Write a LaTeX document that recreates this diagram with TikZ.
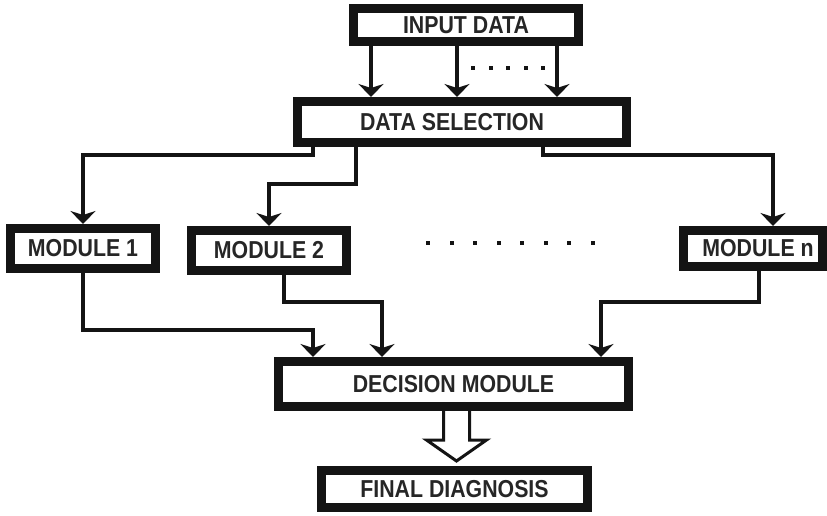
\documentclass[tikz,border=0pt]{standalone}
\usepackage{fontspec}
\newfontfamily\lab[FakeStretch=0.87]{Liberation Sans}
\usetikzlibrary{arrows.meta,calc}
\definecolor{ink}{HTML}{141414}
\definecolor{txt}{HTML}{262626}
\begin{document}
\begin{tikzpicture}[x=1pt,y=-1pt,
  box/.style={draw=ink, line width=9pt, inner sep=0pt, text=txt,
    font=\lab\bfseries\fontsize{24.5}{26}\selectfont},
  link/.style={draw=ink, line width=4pt,
    -{Stealth[length=13pt,width=25pt,inset=4pt]}},
  dot/.style={fill=ink, minimum width=4pt, minimum height=3.5pt, inner sep=0pt}]
  % canvas
  \fill[white] (0,0) rectangle (827,515);
  \useasboundingbox (0,0) rectangle (827,515);

  % boxes
  \node[box, minimum width=225pt, minimum height=33pt] (in)  at (466,25) {INPUT DATA};
  \node[box, minimum width=329pt, minimum height=41pt] (ds)  at (462,122) {\hspace*{-20pt}DATA SELECTION};
  \node[box, minimum width=145pt, minimum height=40pt] (m1)  at (83,248.5) {MODULE 1};
  \node[box, minimum width=155pt, minimum height=40pt] (m2)  at (269,250.5) {MODULE 2};
  \node[box, minimum width=139pt, minimum height=36pt] (mn)  at (753,248.5) {\hspace*{10pt}MODULE n};
  \node[box, minimum width=350pt, minimum height=45pt] (dec) at (453.5,384) {DECISION MODULE};
  \node[box, minimum width=266pt, minimum height=37pt] (fin) at (454.5,489) {FINAL DIAGNOSIS};

  % input data to data selection
  \draw[link] (in.south -| 371,0) -- (ds.north -| 371,0);
  \draw[link] (in.south -| 457,0) -- (ds.north -| 457,0);
  \draw[link] (in.south -| 557,0) -- (ds.north -| 557,0);
  \foreach \i in {0,...,4}
    \node[dot] (ta\i) at (473+17.5*\i,68) {};

  % data selection to the modules
  \draw[link] (ds.south -| 313,0) |- (83,155) -- (m1.north);
  \draw[link] (ds.south -| 356,0) |- (269,184) -- (m2.north);
  \draw[link] (ds.south -| 543,0) |- (773,155) -- (mn.north -| 773,0);
  \foreach \i in {0,...,7}
    \node[dot] (mb\i) at (428+23.57*\i,243) {};

  % modules to decision module
  \draw[link] (m1.south) |- (313,330) -- (dec.north -| 313,0);
  \draw[link] (m2.south -| 284,0) |- (382,302) -- (dec.north -| 382,0);
  \draw[link] (mn.south -| 759,0) |- (601,302) -- (dec.north -| 601,0);

  % hollow arrow to final diagnosis
  \coordinate (hs) at (dec.south -| 456.5,0);
  \coordinate (ht) at (fin.north -| 456.5,0);
  \draw[ink, line width=3pt, line join=miter, fill=white]
    ($(hs)+(-13,0)$) -- ($(hs)+(-13,29)$) -- ($(hs)+(-30,29)$)
    -- ($(ht)+(0,-5)$)
    -- ($(hs)+(30,29)$) -- ($(hs)+(13,29)$) -- ($(hs)+(13,0)$);
\end{tikzpicture}
\end{document}
